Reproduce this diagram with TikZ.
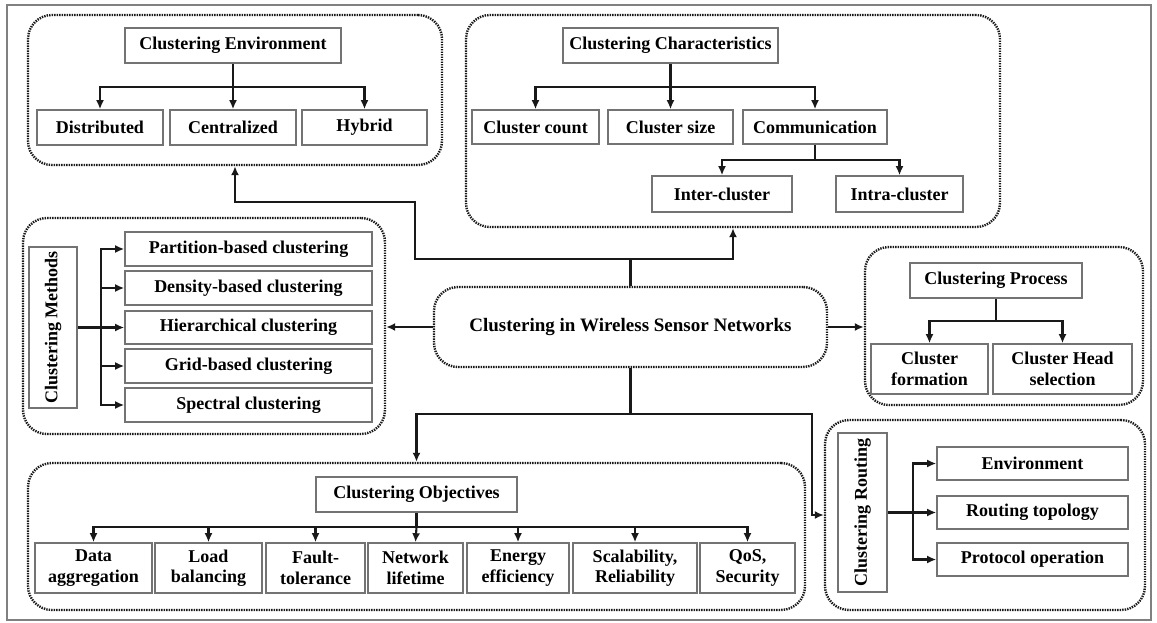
\documentclass[tikz,border=0pt]{standalone}
\usepackage{fontspec}
\setmainfont{Liberation Serif}
\usetikzlibrary{arrows.meta,calc}

\tikzset{
  box/.style={draw=black!55, line width=1.6pt, fill=white, inner sep=2pt,
    align=center, font=\bfseries\fontsize{18}{20.5}\selectfont},
  grp/.style={draw=black!90, line width=2.4pt, dash pattern=on 1.4pt off 1.1pt,
    rounded corners=24pt},
  ln/.style={draw=black!90, line width=2.1pt},
  arr/.style={ln, -{Latex[length=9pt,width=8pt]}},
}

% box given by its corners (x1,y1) (x2,y2) in pixel-like units
\newcommand\mkbox[6]{%
  \node[box, minimum width={(#4-#2)*1pt}, minimum height={(#5-#3)*1pt}]
    (#1) at ({(#2+#4)/2},{(#3+#5)/2}) {#6};}
\newcommand\mkgrp[5]{%
  \node[grp, minimum width={(#4-#2)*1pt}, minimum height={(#5-#3)*1pt}]
    (#1) at ({(#2+#4)/2},{(#3+#5)/2}) {};}

\begin{document}
\begin{tikzpicture}[x=1pt, y=-1pt]
  \useasboundingbox (0,0) rectangle (1157,623);
  \fill[white] (0,0) rectangle (1157,623);
  \draw[black!50, line width=2.2pt] (7,5) rectangle (1151,620);

  % ---- group frames ----
  \mkgrp{envG}{28}{15}{442}{165}
  \mkgrp{charG}{466}{15}{1000}{227}
  \mkgrp{methG}{23}{218}{385}{434}
  \mkgrp{procG}{865}{247}{1143}{405}
  \mkgrp{routG}{825}{420}{1145}{610}
  \mkgrp{objG}{28}{463}{805}{610}

  % ---- central topic ----
  \node[grp, minimum width=393pt, minimum height=80pt,
        font=\bfseries\fontsize{19}{22}\selectfont]
    (cen) at (630.5,327) {Clustering in Wireless Sensor Networks};

  % ---- clustering environment ----
  \mkbox{envT}{125}{28}{341}{63}{Clustering Environment}
  \mkbox{dist}{37}{110}{163}{145}{Distributed}
  \mkbox{centr}{170}{110}{296}{145}{Centralized}
  \mkbox{hyb}{302}{110}{427}{145}{Hybrid}
  \coordinate (eb) at (233,87);
  \draw[ln] (envT.south) -- (eb);
  \draw[arr] (eb) -| (dist.north);
  \draw[arr] (eb) -- (centr.north);
  \draw[arr] (eb) -| (hyb.north);

  % ---- clustering characteristics ----
  \mkbox{charT}{563}{28}{778}{63}{Clustering Characteristics}
  \mkbox{ccount}{472}{110}{599}{144}{Cluster count}
  \mkbox{csize}{608}{110}{733}{144}{Cluster size}
  \mkbox{comm}{743}{110}{887}{144}{Communication}
  \mkbox{inter}{652}{176}{792}{212}{Inter-cluster}
  \mkbox{intra}{836}{176}{963}{212}{Intra-cluster}
  \coordinate (cb) at (670.5,87);
  \draw[ln] (charT.south) -- (cb);
  \draw[arr] (cb) -| (ccount.north);
  \draw[arr] (cb) -- (csize.north);
  \draw[arr] (cb) -| (comm.north);
  \coordinate (cb2) at (815,160);
  \draw[ln] (comm.south) -- (cb2);
  \draw[arr] (cb2) -| (inter.north);
  \draw[arr] (cb2) -| (intra.north);

  % ---- clustering methods ----
  \node[box, rotate=90, minimum width=161pt, minimum height=48pt]
    (meth) at (53,327.5) {Clustering Methods};
  \mkbox{part}{125}{232}{372}{266}{Partition-based clustering}
  \mkbox{dens}{125}{271}{372}{305}{Density-based clustering}
  \mkbox{hier}{125}{311}{372}{344}{Hierarchical clustering}
  \mkbox{grid}{125}{349}{372}{383}{Grid-based clustering}
  \mkbox{spec}{125}{388}{372}{422}{Spectral clustering}
  \coordinate (mb) at (101,327.5);
  \draw[ln] (meth.south) -- (mb);
  \foreach \n in {part,dens,grid,spec} \draw[arr] (mb) |- (\n.west);
  \draw[arr] (mb) -- (hier.west);

  % ---- clustering process ----
  \mkbox{procT}{910}{263}{1082}{298}{Clustering Process}
  \mkbox{cform}{871}{344}{988}{394}{Cluster\\formation}
  \mkbox{chead}{993}{344}{1132}{394}{Cluster Head\\selection}
  \coordinate (pb) at (996,321);
  \draw[ln] (procT.south) -- (pb);
  \draw[arr] (pb) -| (cform.north);
  \draw[arr] (pb) -| (chead.north);

  % ---- clustering routing ----
  \node[box, rotate=90, minimum width=159pt, minimum height=49pt]
    (rout) at (862.5,512.5) {Clustering Routing};
  \mkbox{renv}{937}{447}{1128}{480}{Environment}
  \mkbox{rtopo}{937}{496}{1128}{529}{Routing topology}
  \mkbox{rproto}{937}{543}{1128}{576}{Protocol operation}
  \coordinate (rb) at (913,512.5);
  \draw[ln] (rout.south) -- (rb);
  \draw[arr] (rb) |- (renv.west);
  \draw[arr] (rb) -- (rtopo.west);
  \draw[arr] (rb) |- (rproto.west);

  % ---- clustering objectives ----
  \mkbox{objT}{316}{477}{517}{512}{Clustering Objectives}
  \mkbox{o1}{35}{543}{152}{593}{Data\\aggregation}
  \mkbox{o2}{155}{543}{262}{593}{Load\\balancing}
  \mkbox{o3}{266}{543}{365}{593}{Fault-\\tolerance}
  \mkbox{o4}{368}{543}{463}{593}{Network\\lifetime}
  \mkbox{o5}{467}{543}{569}{593}{Energy\\efficiency}
  \mkbox{o6}{573}{543}{697}{593}{Scalability,\\Reliability}
  \mkbox{o7}{700}{543}{795}{593}{QoS,\\Security}
  \coordinate (ob) at (416.5,527);
  \draw[ln] (objT.south) -- (ob);
  \foreach \n in {o1,o2,o3,o5,o6,o7} \draw[arr] (ob) -| (\n.north);
  \draw[arr] (ob) -- (o4.north);

  % ---- links from the central topic ----
  \coordinate (up) at (630.5,259);
  \coordinate (jog) at (415,202);
  \draw[ln] (cen.north) -- (up);
  \draw[arr] (up) -| (jog) -| (envG.south);
  \draw[arr] (up) -| (charG.south);
  \draw[arr] (cen.west) -- (cen.west -| methG.east);
  \draw[arr] (cen.east) -- (cen.east -| procG.west);
  \coordinate (dn) at (630.5,414);
  \draw[ln] (cen.south) -- (dn);
  \draw[arr] (dn) -| (objG.north);
  \coordinate (bend) at (812,515);
  \draw[arr] (dn) -| (bend) -- (bend -| routG.west);
\end{tikzpicture}
\end{document}
